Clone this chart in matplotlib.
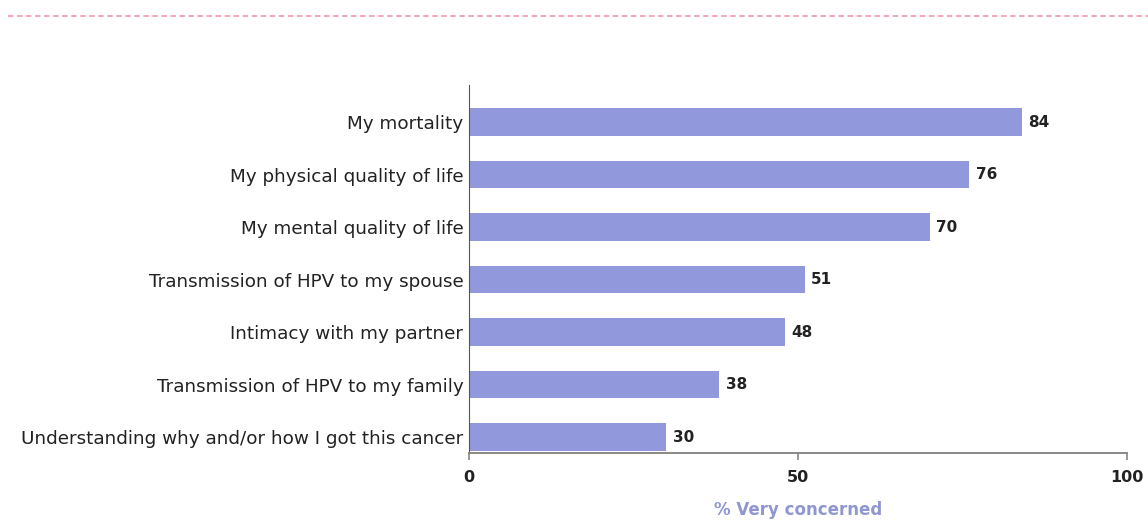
import matplotlib
matplotlib.use("Agg")
import matplotlib.pyplot as plt
from matplotlib.lines import Line2D

categories = [
    "Understanding why and/or how I got this cancer",
    "Transmission of HPV to my family",
    "Intimacy with my partner",
    "Transmission of HPV to my spouse",
    "My mental quality of life",
    "My physical quality of life",
    "My mortality",
]
values = [30, 38, 48, 51, 70, 76, 84]
xticks = [0, 50, 100]

fig = plt.figure(figsize=(11.48, 5.23), dpi=100)
ax = fig.add_axes([0.4085, 0.1338, 0.9817 - 0.4085, 0.8375 - 0.1338])

ypos = list(range(len(categories)))
ax.barh(ypos, values, height=0.52, color="#9298dc", zorder=2)
for y, v in zip(ypos, values):
    ax.text(v + 1.0, y, str(v), va="center", ha="left", fontsize=11,
            fontweight="bold", color="#222222")

ax.set_xlim(0, 100)
ax.set_ylim(-0.305, 6.705)
ax.set_yticks(ypos)
ax.set_yticklabels(categories, fontsize=13.2, color="#222222")
ax.tick_params(axis="y", length=0, pad=4)
ax.set_xticks(xticks)
ax.set_xticklabels([str(t) for t in xticks], fontsize=11.5, fontweight="bold", color="#222222")
ax.tick_params(axis="x", length=5, width=1.2, color="#888888", pad=7)
for s in ["top", "right"]:
    ax.spines[s].set_visible(False)
ax.spines["left"].set_color("#555555")
ax.spines["bottom"].set_color("#888888")
ax.spines["bottom"].set_linewidth(1.4)
ax.set_xlabel("% Very concerned", fontsize=12, fontweight="bold", color="#9096d0", labelpad=12)

fig.add_artist(Line2D([0.007, 1.0], [1 - 16 / 523, 1 - 16 / 523], transform=fig.transFigure,
                      color="#f0a0b0", linestyle=(0, (3, 2)), linewidth=1.3))

fig.savefig("out.png", dpi=100)
